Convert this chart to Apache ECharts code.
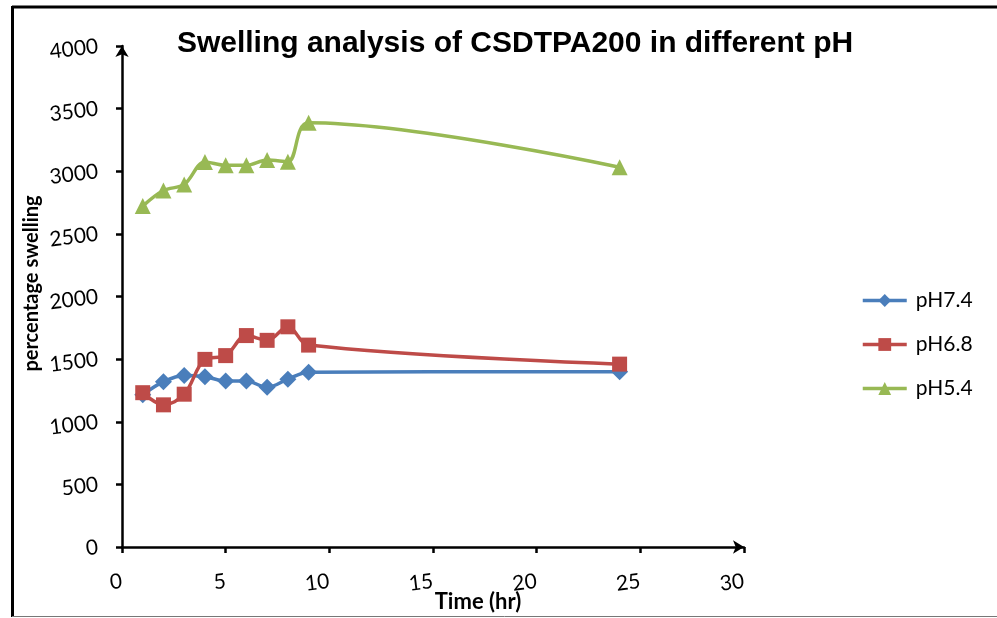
<!DOCTYPE html>
<html>
<head>
<meta charset="utf-8">
<script src="https://cdn.jsdelivr.net/npm/echarts@6/dist/echarts.min.js"></script>
<style>
html,body{margin:0;padding:0;background:#fff;}
#chart{width:997px;height:618px;}
</style>
</head>
<body>
<div id="chart"></div>
<script>
var timeHr = [1, 2, 3, 4, 5, 6, 7, 8, 9, 24];
var pH74 = [1215, 1320, 1370, 1360, 1325, 1325, 1275, 1340, 1395, 1400];
var pH68 = [1232, 1135, 1220, 1498, 1528, 1688, 1650, 1758, 1612, 1460];
var pH54 = [2722, 2846, 2895, 3074, 3047, 3047, 3090, 3076, 3387, 3032];
var seriesNames = ['pH7.4', 'pH6.8', 'pH5.4'];
var xTicks = [0, 5, 10, 15, 20, 25, 30];
var yTicks = [0, 500, 1000, 1500, 2000, 2500, 3000, 3500, 4000];

function pairs(xs, ys) { return xs.map(function (x, i) { return [x, ys[i]]; }); }

var chart = echarts.init(document.getElementById('chart'), null, {renderer: 'canvas'});
var labelFont = 'Lato';
var option = {
  backgroundColor: '#fff',
  animation: false,
  title: {
    text: 'Swelling analysis of CSDTPA200 in different pH',
    left: 510, top: 24, textAlign: 'center',
    textStyle: {fontFamily: 'Liberation Sans', fontWeight: 'bold', fontSize: 30, color: '#000'}
  },
  legend: {
    orient: 'vertical', left: 856, top: 285, itemGap: 23,
    itemWidth: 44, itemHeight: 16,
    lineStyle: {width: 3.5},
    textStyle: {fontFamily: labelFont, fontSize: 21, color: '#000', padding: [0, 0, 0, 4]},
    data: seriesNames
  },
  grid: {left: 122, right: 253, top: 46, bottom: 71, containLabel: false, outerBoundsMode: 'none'},
  xAxis: {
    type: 'value', min: xTicks[0], max: xTicks[xTicks.length - 1], interval: 5,
    name: 'Time (hr)', nameLocation: 'middle', nameGap: 44, nameMoveOverlap: false,
    nameTextStyle: {fontFamily: labelFont, fontWeight: 'bold', fontSize: 22, color: '#000', padding: [0, 0, 0, 90]},
    axisLine: {lineStyle: {color: '#000', width: 2.5}, symbol: ['none', 'arrow'], symbolSize: [10, 11]},
    axisTick: {length: 6, lineStyle: {color: '#000', width: 2.5}},
    axisLabel: {fontFamily: labelFont, fontSize: 21, color: '#000', margin: 34, rotate: 7,
      formatter: function (v) { return String(v); }},
    splitLine: {show: false}
  },
  yAxis: {
    type: 'value', min: yTicks[0], max: yTicks[yTicks.length - 1], interval: 500,
    name: 'percentage swelling', nameLocation: 'middle', nameGap: 80, nameRotate: 90, nameMoveOverlap: false,
    nameTextStyle: {fontFamily: labelFont, fontWeight: 'bold', fontSize: 20, color: '#000', padding: [0, 0, 0, 26]},
    axisLine: {lineStyle: {color: '#000', width: 2.5}, symbol: ['none', 'arrow'], symbolSize: [10, 11]},
    axisTick: {length: 6, lineStyle: {color: '#000', width: 2.5}},
    axisLabel: {fontFamily: labelFont, fontSize: 21, color: '#000', margin: 24, rotate: 7,
      formatter: function (v) { return String(v); }},
    splitLine: {show: false}
  },
  series: [
    {name: seriesNames[0], type: 'line', data: pairs(timeHr, pH74), smooth: 0.35,
     symbol: 'diamond', symbolSize: 17, color: '#4A7EBB',
     lineStyle: {width: 3.5, color: '#4A7EBB'}, itemStyle: {color: '#4A7EBB'}},
    {name: seriesNames[1], type: 'line', data: pairs(timeHr, pH68), smooth: 0.35,
     symbol: 'rect', symbolSize: 15, color: '#BE4B48',
     lineStyle: {width: 3.5, color: '#BE4B48'}, itemStyle: {color: '#BE4B48'}},
    {name: seriesNames[2], type: 'line', data: pairs(timeHr, pH54), smooth: 0.35,
     symbol: 'triangle', symbolSize: 16, color: '#98B954',
     lineStyle: {width: 3.5, color: '#98B954'}, itemStyle: {color: '#98B954'}}
  ],
  graphic: [
    {type: 'line', shape: {x1: 12, y1: 7, x2: 997, y2: 7}, style: {stroke: '#000', lineWidth: 3}},
    {type: 'line', shape: {x1: 12.5, y1: 6, x2: 12.5, y2: 617}, style: {stroke: '#000', lineWidth: 3}},
    {type: 'line', shape: {x1: 12, y1: 616.5, x2: 997, y2: 616.5}, style: {stroke: '#777', lineWidth: 1}}
  ]
};
chart.setOption(option);
</script>
</body>
</html>
